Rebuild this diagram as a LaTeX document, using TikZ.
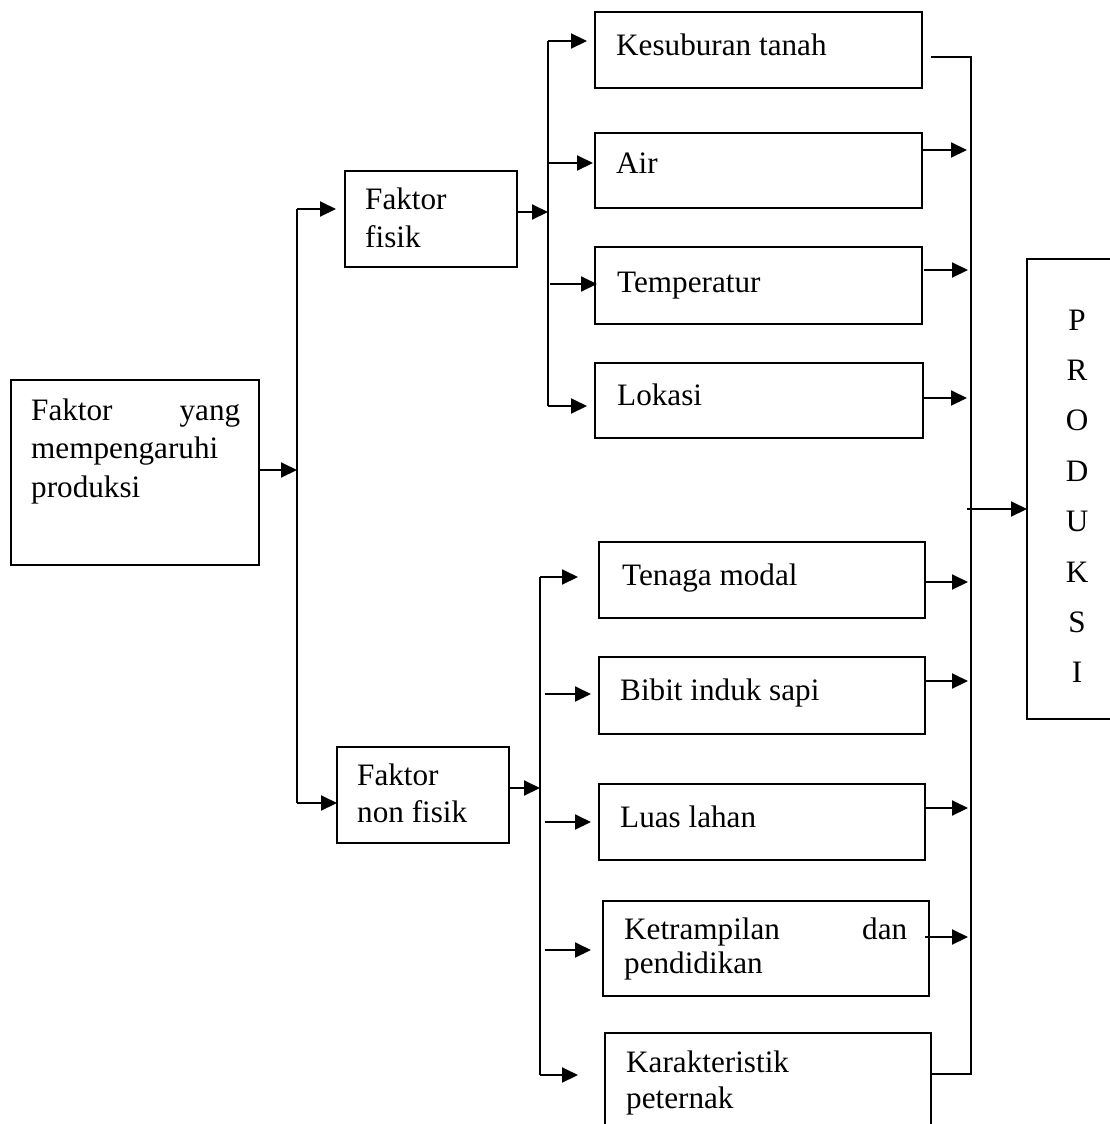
\documentclass[tikz,border=0pt]{standalone}
\usepackage{fontspec}
\setmainfont{Liberation Serif}
\usetikzlibrary{arrows.meta}
\begin{document}
\begin{tikzpicture}[x=1bp,y=-1bp,
  line/.style={line width=2bp},
  arr/.style={line width=2bp,-{Triangle[length=16bp,width=15bp]}},
  box/.style={draw,line width=2bp,inner sep=0pt,outer sep=0pt,anchor=north west},
  lbl/.style={inner sep=0pt,anchor=base west,font=\fontsize{31.3}{37}\selectfont}]
\useasboundingbox (0,0) rectangle (1110,1124);

% boxes
\node[box,minimum width=248bp,minimum height=185bp] (main) at (11,380) {};
\node[box,minimum width=172bp,minimum height=96bp] (fisik) at (345,171) {};
\node[box,minimum width=172bp,minimum height=96bp] (nonfisik) at (337,747) {};
\node[box,minimum width=327bp,minimum height=76bp] (kes) at (595,12) {};
\node[box,minimum width=327bp,minimum height=75bp] (air) at (595,133) {};
\node[box,minimum width=327bp,minimum height=77bp] (temp) at (595,247) {};
\node[box,minimum width=328bp,minimum height=75bp] (lok) at (595,363) {};
\node[box,minimum width=326bp,minimum height=76bp] (ten) at (599,542) {};
\node[box,minimum width=326bp,minimum height=77bp] (bib) at (599,657) {};
\node[box,minimum width=326bp,minimum height=76bp] (luas) at (599,784) {};
\node[box,minimum width=326bp,minimum height=95bp] (ket) at (603,901) {};
\node[box,minimum width=326bp,minimum height=110bp] (kar) at (605,1033) {};
\node[box,minimum width=100bp,minimum height=460bp] (prod) at (1027,259) {};

% texts
\node[lbl] (mainA) at (31,420) {\makebox[209bp][s]{Faktor yang}};
\node[lbl] (mainB) at (31,458) {mempengaruhi};
\node[lbl] (mainC) at (31,497) {produksi};
\node[lbl] (fisikA) at (365,209) {Faktor};
\node[lbl] (fisikB) at (365,247) {fisik};
\node[lbl] (nonA) at (357,785) {Faktor};
\node[lbl] (nonB) at (357,822) {non fisik};
\node[lbl] (kesT) at (616,55) {Kesuburan tanah};
\node[lbl] (airT) at (616,173) {Air};
\node[lbl] (tempT) at (617,292) {Temperatur};
\node[lbl] (lokT) at (617,405) {Lokasi};
\node[lbl] (tenT) at (622,585) {Tenaga modal};
\node[lbl] (bibT) at (620,700) {Bibit induk sapi};
\node[lbl] (luasT) at (620,827) {Luas lahan};
\node[lbl] (ketA) at (624,939) {\makebox[283bp][s]{Ketrampilan dan}};
\node[lbl] (ketB) at (624,973) {pendidikan};
\node[lbl] (karA) at (626,1072) {Karakteristik};
\node[lbl] (karB) at (626,1108) {peternak};
\foreach \l [count=\i from 0] in {P,R,O,D,U,K,S,I}
  \node[lbl,anchor=base] (prod\i) at (1077,330+50.4*\i) {\l};

% junction coordinates
\coordinate (j1) at (297,470);
\coordinate (a1) at (297,209);
\coordinate (b1) at (297,803);
\coordinate (j2) at (548,212);
\coordinate (a2) at (548,41);
\coordinate (c2) at (548,163);
\coordinate (d2) at (550,284);
\coordinate (b2) at (548,406);
\coordinate (j3) at (540,788);
\coordinate (a3) at (540,577);
\coordinate (c3) at (545,694);
\coordinate (d3) at (545,822);
\coordinate (e3) at (545,950);
\coordinate (b3) at (540,1075);
\coordinate (rTop) at (971,57);
\coordinate (rBot) at (971,1074);
\coordinate (rAir) at (967,150);
\coordinate (rTemp) at (968,270);
\coordinate (rLok) at (967,398);
\coordinate (rTen) at (968,582);
\coordinate (rBib) at (968,681);
\coordinate (rLuas) at (968,808);
\coordinate (rKet) at (968,937);
\coordinate (rProd) at (967,509);

% first level
\draw[arr] (main.east |- j1) -- (j1);
\draw[line] (b1) -- (a1);
\draw[arr] (a1) -- ([xshift=-9bp]fisik.west |- a1);
\draw[arr] (b1) -- (nonfisik.west |- b1);

% physical factors
\draw[arr] (fisik.east |- j2) -- (j2);
\draw[line] (a2) -- (b2);
\draw[arr] (a2) -- ([xshift=-8bp]kes.west |- a2);
\draw[arr] (c2) -- ([xshift=-2bp]air.west |- c2);
\draw[arr] (d2) -- ([xshift=2bp]temp.west |- d2);
\draw[arr] (b2) -- ([xshift=-8bp]lok.west |- b2);

% non-physical factors
\draw[arr] (nonfisik.east |- j3) -- (j3);
\draw[line] (a3) -- (b3);
\draw[arr] (a3) -- ([xshift=-21bp]ten.west |- a3);
\draw[arr] (c3) -- ([xshift=-8bp]bib.west |- c3);
\draw[arr] (d3) -- ([xshift=-8bp]luas.west |- d3);
\draw[arr] (e3) -- ([xshift=-12bp]ket.west |- e3);
\draw[arr] (b3) -- ([xshift=-27bp]kar.west |- b3);

% collecting line
\draw[line] ([xshift=9bp]kes.east |- rTop) -- (rTop) -- (rBot) -- (kar.east |- rBot);
\draw[arr] (air.east |- rAir) -- (rAir);
\draw[arr] ([xshift=2bp]temp.east |- rTemp) -- (rTemp);
\draw[arr] (lok.east |- rLok) -- (rLok);
\draw[arr] (ten.east |- rTen) -- (rTen);
\draw[arr] (bib.east |- rBib) -- (rBib);
\draw[arr] (luas.east |- rLuas) -- (rLuas);
\draw[arr] ([xshift=-4bp]ket.east |- rKet) -- (rKet);
\draw[arr] (rProd) -- (prod.west |- rProd);
\end{tikzpicture}
\end{document}
